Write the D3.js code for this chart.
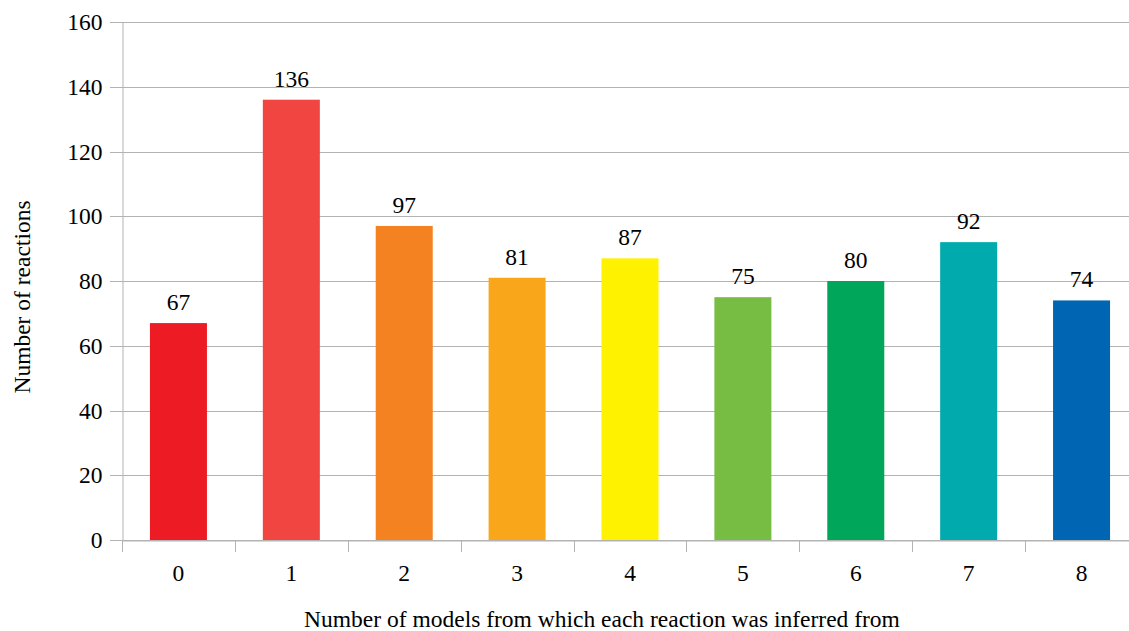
<!DOCTYPE html>
<html>
<head>
<meta charset="utf-8">
<script src="https://cdn.jsdelivr.net/npm/d3@7/dist/d3.min.js"></script>
<style>
  html, body { margin: 0; padding: 0; background: #fff; }
  svg { display: block; }
  svg text { font-family: "Liberation Serif", "Times New Roman", serif; }
</style>
</head>
<body>
<svg id="chart" width="1129" height="631"></svg>
<script>
// Reactions grouped by how many models they were inferred from
const categories = ["0", "1", "2", "3", "4", "5", "6", "7", "8"];
const reactions = [67, 136, 97, 81, 87, 75, 80, 92, 74];
const barColors = ["#ed1c24", "#f04540", "#f58220", "#faa61a", "#fff200",
                   "#77bd43", "#00a65a", "#00aaad", "#0066b3"];
const yTicks = [0, 20, 40, 60, 80, 100, 120, 140, 160];

const svg = d3.select("#chart");
const margin = { left: 122, top: 22, bottom: 91 };
const plotW = 1016;
const plotH = 631 - margin.top - margin.bottom;

const x = d3.scaleBand().domain(categories)
  .range([margin.left, margin.left + plotW]).paddingInner(0.495).paddingOuter(0.2475);
const y = d3.scaleLinear().domain([0, 160]).range([margin.top + plotH, margin.top]);

const grid = "#b3b3b3";
const fontSize = 23.5;

// horizontal gridlines
svg.append("g").selectAll("line").data(yTicks).join("line")
  .attr("x1", margin.left - 12).attr("x2", margin.left + plotW)
  .attr("y1", d => Math.round(y(d)) + 0.5).attr("y2", d => Math.round(y(d)) + 0.5)
  .attr("stroke", grid).attr("stroke-width", 1);

// y axis
const yAxis = svg.append("g")
  .attr("transform", `translate(${margin.left + 0.5},0)`)
  .call(d3.axisLeft(y).tickValues(yTicks).tickSize(0).tickPadding(20));
yAxis.select(".domain").attr("stroke", grid);
yAxis.selectAll("text").attr("font-size", fontSize).attr("fill", "#000")
  .attr("font-family", "Liberation Serif");

// bars
svg.append("g").selectAll("rect").data(reactions).join("rect")
  .attr("x", (d, i) => x(categories[i]))
  .attr("width", x.bandwidth())
  .attr("y", d => y(d))
  .attr("height", d => y(0) - y(d))
  .attr("fill", (d, i) => barColors[i]);

// value labels
svg.append("g").selectAll("text").data(reactions).join("text")
  .attr("x", (d, i) => x(categories[i]) + x.bandwidth() / 2)
  .attr("y", d => y(d) - 13)
  .attr("text-anchor", "middle")
  .attr("font-size", fontSize).attr("fill", "#000")
  .text(d => d);

// x axis
const xAxis = svg.append("g")
  .attr("transform", `translate(0,${Math.round(y(0)) + 0.5})`)
  .call(d3.axisBottom(x).tickSize(0).tickPadding(24));
xAxis.select(".domain").attr("stroke", grid);
xAxis.selectAll("text").attr("font-size", fontSize).attr("fill", "#000")
  .attr("font-family", "Liberation Serif");

// category boundary ticks below the axis
const bounds = d3.range(categories.length + 1).map(i => margin.left + i * x.step());
svg.append("g").selectAll("line").data(bounds).join("line")
  .attr("x1", d => Math.round(d) + 0.5).attr("x2", d => Math.round(d) + 0.5)
  .attr("y1", Math.round(y(0))).attr("y2", Math.round(y(0)) + 12)
  .attr("stroke", grid);

// axis titles
svg.append("text")
  .attr("x", 602).attr("y", 627)
  .attr("text-anchor", "middle").attr("font-size", fontSize)
  .text("Number of models from which each reaction was inferred from");

svg.append("text")
  .attr("transform", `translate(30,${297}) rotate(-90)`)
  .attr("text-anchor", "middle").attr("font-size", fontSize)
  .text("Number of reactions");
</script>
</body>
</html>
